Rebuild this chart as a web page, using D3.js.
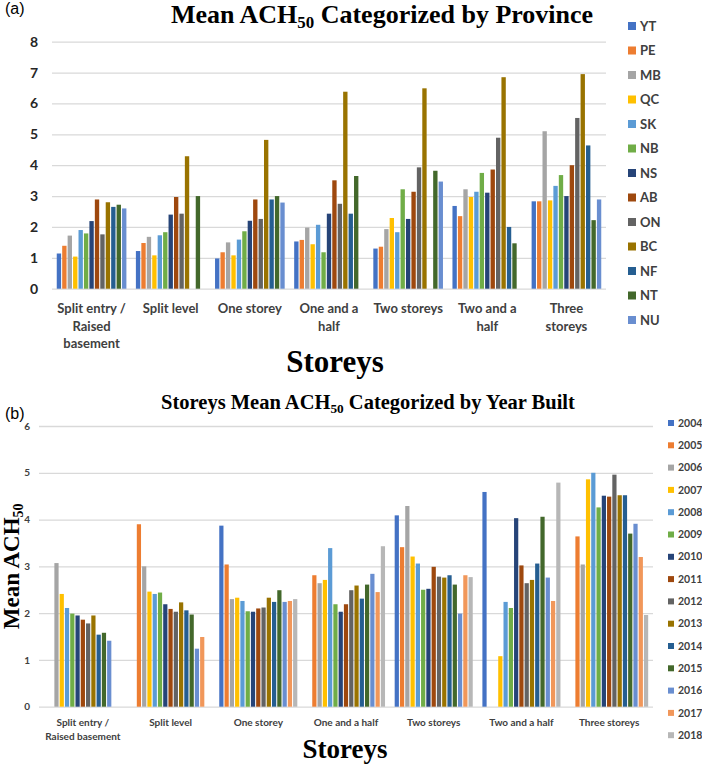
<!DOCTYPE html>
<html>
<head>
<meta charset="utf-8">
<script src="https://cdn.jsdelivr.net/npm/d3@7"></script>
<style>
  body { margin: 0; background: #fff; }
  svg { display: block; }
  .grid line { stroke: #d9d9d9; stroke-width: 1.3; }
  .grid .domain { display: none; }
  .serif { font-family: "Liberation Serif", "Times New Roman", serif; font-weight: bold; fill: #000; }
  .sans { font-family: Lato, "Open Sans", sans-serif; font-weight: bold; }
</style>
</head>
<body>
<svg id="chart" width="702" height="765"></svg>
<script>
// categories shared by both panels
var storeys = ['Split entry / Raised basement', 'Split level', 'One storey', 'One and a half', 'Two storeys', 'Two and a half', 'Three storeys'];
var labelsA = ['Split entry /|Raised|basement', 'Split level', 'One storey', 'One and a|half', 'Two storeys', 'Two and a|half', 'Three|storeys'];
var labelsB = ['Split entry /|Raised basement', 'Split level', 'One storey', 'One and a half', 'Two storeys', 'Two and a half', 'Three storeys'];

// (a) provinces, values per storey group (null = no bar)
var provinces = ['YT', 'PE', 'MB', 'QC', 'SK', 'NB', 'NS', 'AB', 'ON', 'BC', 'NF', 'NT', 'NU'];
var YT = [1.14, 1.22, 0.98, 1.53, 1.30, 2.68, 2.83];
var PE = [1.39, 1.48, 1.18, 1.58, 1.36, 2.35, 2.83];
var MB = [1.72, 1.68, 1.50, 1.98, 1.93, 3.22, 5.10];
var QC = [1.04, 1.08, 1.08, 1.44, 2.29, 2.97, 2.86];
var SK = [1.90, 1.73, 1.59, 2.07, 1.83, 3.14, 3.33];
var NB = [1.79, 1.83, 1.86, 1.18, 3.22, 3.75, 3.68];
var NS = [2.19, 2.40, 2.20, 2.43, 2.26, 3.11, 3.00];
var AB = [2.89, 2.97, 2.89, 3.51, 3.14, 3.86, 4.00];
var ON = [1.76, 2.43, 2.26, 2.75, 3.93, 4.89, 5.53];
var BC = [2.80, 4.29, 4.82, 6.38, 6.49, 6.85, 6.95];
var NF = [2.65, null, 2.89, 2.43, null, 2.00, 4.64];
var NT = [2.72, 3.00, 3.00, 3.65, 3.82, 1.47, 2.22];
var NU = [2.60, null, 2.79, null, 3.47, null, 2.89];
var provinceValues = [YT, PE, MB, QC, SK, NB, NS, AB, ON, BC, NF, NT, NU];
var ticksA = [0, 1, 2, 3, 4, 5, 6, 7, 8];

// (b) year built, values per storey group
var years = ['2004', '2005', '2006', '2007', '2008', '2009', '2010', '2011', '2012', '2013', '2014', '2015', '2016', '2017', '2018'];
var y2004 = [null, null, 3.87, null, 4.09, 4.59, null];
var y2005 = [null, 3.90, 3.04, 2.81, 3.41, null, 3.64];
var y2006 = [3.07, 3.00, 2.30, 2.64, 4.29, null, 3.04];
var y2007 = [2.41, 2.46, 2.33, 2.71, 3.21, 1.08, 4.86];
var y2008 = [2.11, 2.41, 2.26, 3.39, 3.06, 2.24, 5.00];
var y2009 = [1.99, 2.44, 2.04, 2.19, 2.50, 2.11, 4.26];
var y2010 = [1.95, 2.19, 2.03, 2.03, 2.52, 4.03, 4.51];
var y2011 = [1.86, 2.09, 2.10, 2.19, 2.99, 3.02, 4.49];
var y2012 = [1.78, 2.03, 2.12, 2.49, 2.78, 2.64, 4.96];
var y2013 = [1.95, 2.23, 2.33, 2.59, 2.76, 2.71, 4.52];
var y2014 = [1.54, 2.06, 2.24, 2.31, 2.81, 3.06, 4.52];
var y2015 = [1.58, 1.97, 2.49, 2.61, 2.61, 4.06, 3.70];
var y2016 = [1.41, 1.24, 2.24, 2.84, 1.99, 2.76, 3.91];
var y2017 = [null, 1.49, 2.26, 2.45, 2.81, 2.26, 3.20];
var y2018 = [null, null, 2.30, 3.43, 2.77, 4.79, 1.96];
var yearValues = [y2004, y2005, y2006, y2007, y2008, y2009, y2010, y2011, y2012, y2013, y2014, y2015, y2016, y2017, y2018];
var ticksB = [0, 1, 2, 3, 4, 5, 6];

var palette = ['#4472C4', '#ED7D31', '#A5A5A5', '#FFC000', '#5B9BD5', '#70AD47', '#264478', '#9E480E', '#636363', '#997300', '#255E91', '#43682B', '#698ED0', '#F1975A', '#B7B7B7'];

var svg = d3.select('#chart');

function drawPanel(opt) {
  var g = svg.append('g');
  var y = d3.scaleLinear().domain([0, opt.max]).range([opt.bottom, opt.top]);
  var x0 = d3.scaleBand().domain(storeys).range([opt.left, opt.right])
    .paddingInner(opt.padIn).paddingOuter(opt.padOut);
  var x1 = d3.scaleBand().domain(opt.series).range([0, x0.bandwidth()]).paddingInner(0.2);
  var color = d3.scaleOrdinal().domain(opt.series).range(palette);

  // gridlines + tick labels
  var yAxis = d3.axisLeft(y).tickValues(opt.ticks).tickFormat(d3.format('d'))
    .tickSize(-(opt.right - opt.left)).tickPadding(opt.tickPad);
  var ga = g.append('g').attr('class', 'grid')
    .attr('transform', 'translate(' + opt.left + ',0)')
    .call(yAxis);
  ga.selectAll('.tick text')
    .attr('class', 'sans')
    .style('font-size', opt.tickFont + 'px')
    .attr('fill', opt.tickColor);

  // bars
  var rows = [];
  opt.series.forEach(function(s, si) {
    opt.values[si].forEach(function(v, ci) {
      if (v != null) rows.push({ s: s, cat: storeys[ci], v: v });
    });
  });
  g.append('g').selectAll('rect').data(rows).join('rect')
    .attr('x', function(d) { return x0(d.cat) + x1(d.s); })
    .attr('y', function(d) { return y(d.v); })
    .attr('width', x1.bandwidth())
    .attr('height', function(d) { return y(0) - y(d.v); })
    .attr('fill', function(d) { return color(d.s); });

  // category labels
  var xl = g.append('g').selectAll('text').data(storeys).join('text')
    .attr('class', 'sans')
    .attr('text-anchor', 'middle')
    .style('font-size', opt.catFont + 'px')
    .attr('fill', '#404040')
    .attr('transform', function(d) { return 'translate(' + (x0(d) + x0.bandwidth() / 2) + ',' + opt.catY + ')'; });
  xl.selectAll('tspan').data(function(d, i) { return opt.labels[i].split('|'); }).join('tspan')
    .attr('x', 0)
    .attr('dy', function(d, i) { return i === 0 ? 0 : opt.catLine; })
    .text(function(d) { return d; });

  // legend
  var lg = g.append('g').selectAll('g').data(opt.series).join('g')
    .attr('transform', function(d, i) { return 'translate(' + opt.legX + ',' + (opt.legY + i * opt.legStep) + ')'; });
  lg.append('rect').attr('x', 0).attr('y', -opt.legBox / 2).attr('width', opt.legBox).attr('height', opt.legBox)
    .attr('fill', function(d) { return color(d); });
  lg.append('text').attr('class', 'sans').attr('x', opt.legBox + 4).attr('dy', '0.35em')
    .style('font-size', opt.legFont + 'px').attr('fill', '#404040')
    .text(function(d) { return d; });

  // title with subscript
  var t = g.append('text').attr('class', 'serif').attr('text-anchor', 'middle')
    .attr('x', opt.titleX).attr('y', opt.titleY).style('font-size', opt.titleFont + 'px');
  t.append('tspan').text(opt.titlePre);
  t.append('tspan').text('50').attr('dy', opt.titleFont * 0.2).style('font-size', (opt.titleFont * 0.65) + 'px');
  t.append('tspan').text(opt.titlePost).attr('dy', -opt.titleFont * 0.2);

  // x-axis title
  g.append('text').attr('class', 'serif').attr('text-anchor', 'middle')
    .attr('x', opt.xTitleX).attr('y', opt.xTitleY).style('font-size', opt.xTitleFont + 'px')
    .text('Storeys');

  // panel letter
  g.append('text').attr('x', 5).attr('y', opt.letterY)
    .style('font-family', '"Liberation Sans", Arial, sans-serif').style('font-size', '16px')
    .text(opt.letter);

  return { g: g, y: y };
}

drawPanel({
  series: provinces, values: provinceValues, max: 8, ticks: ticksA,
  left: 52, right: 606, top: 41.7, bottom: 288.7, padIn: 0.12, padOut: 0.06,
  tickFont: 14, tickColor: '#262626', tickPad: 14,
  labels: labelsA, catFont: 13, catY: 313, catLine: 17.5,
  legX: 628, legY: 26, legStep: 24.5, legBox: 8, legFont: 13,
  titleX: 382, titleY: 23, titleFont: 26, titlePre: 'Mean ACH', titlePost: ' Categorized by Province',
  xTitleX: 335, xTitleY: 372, xTitleFont: 31,
  letter: '(a)', letterY: 14
});

var pb = drawPanel({
  series: years, values: yearValues, max: 6, ticks: ticksB,
  left: 39, right: 653, top: 426, bottom: 706.7, padIn: 0.11, padOut: 0.055,
  tickFont: 10, tickColor: '#404040', tickPad: 9,
  labels: labelsB, catFont: 10, catY: 726, catLine: 14,
  legX: 668, legY: 423, legStep: 22.3, legBox: 6, legFont: 10.5,
  titleX: 368, titleY: 409, titleFont: 20.5, titlePre: 'Storeys Mean ACH', titlePost: ' Categorized by Year Built',
  xTitleX: 345, xTitleY: 758, xTitleFont: 27,
  letter: '(b)', letterY: 419
});

// y-axis title for panel (b)
var yt = svg.append('text').attr('class', 'serif').attr('text-anchor', 'middle')
  .attr('transform', 'translate(19,' + pb.y(3) + ') rotate(-90)')
  .style('font-size', '23px');
yt.append('tspan').text('Mean ACH');
yt.append('tspan').text('50').attr('dy', 4).style('font-size', '14px');
</script>
</body>
</html>
